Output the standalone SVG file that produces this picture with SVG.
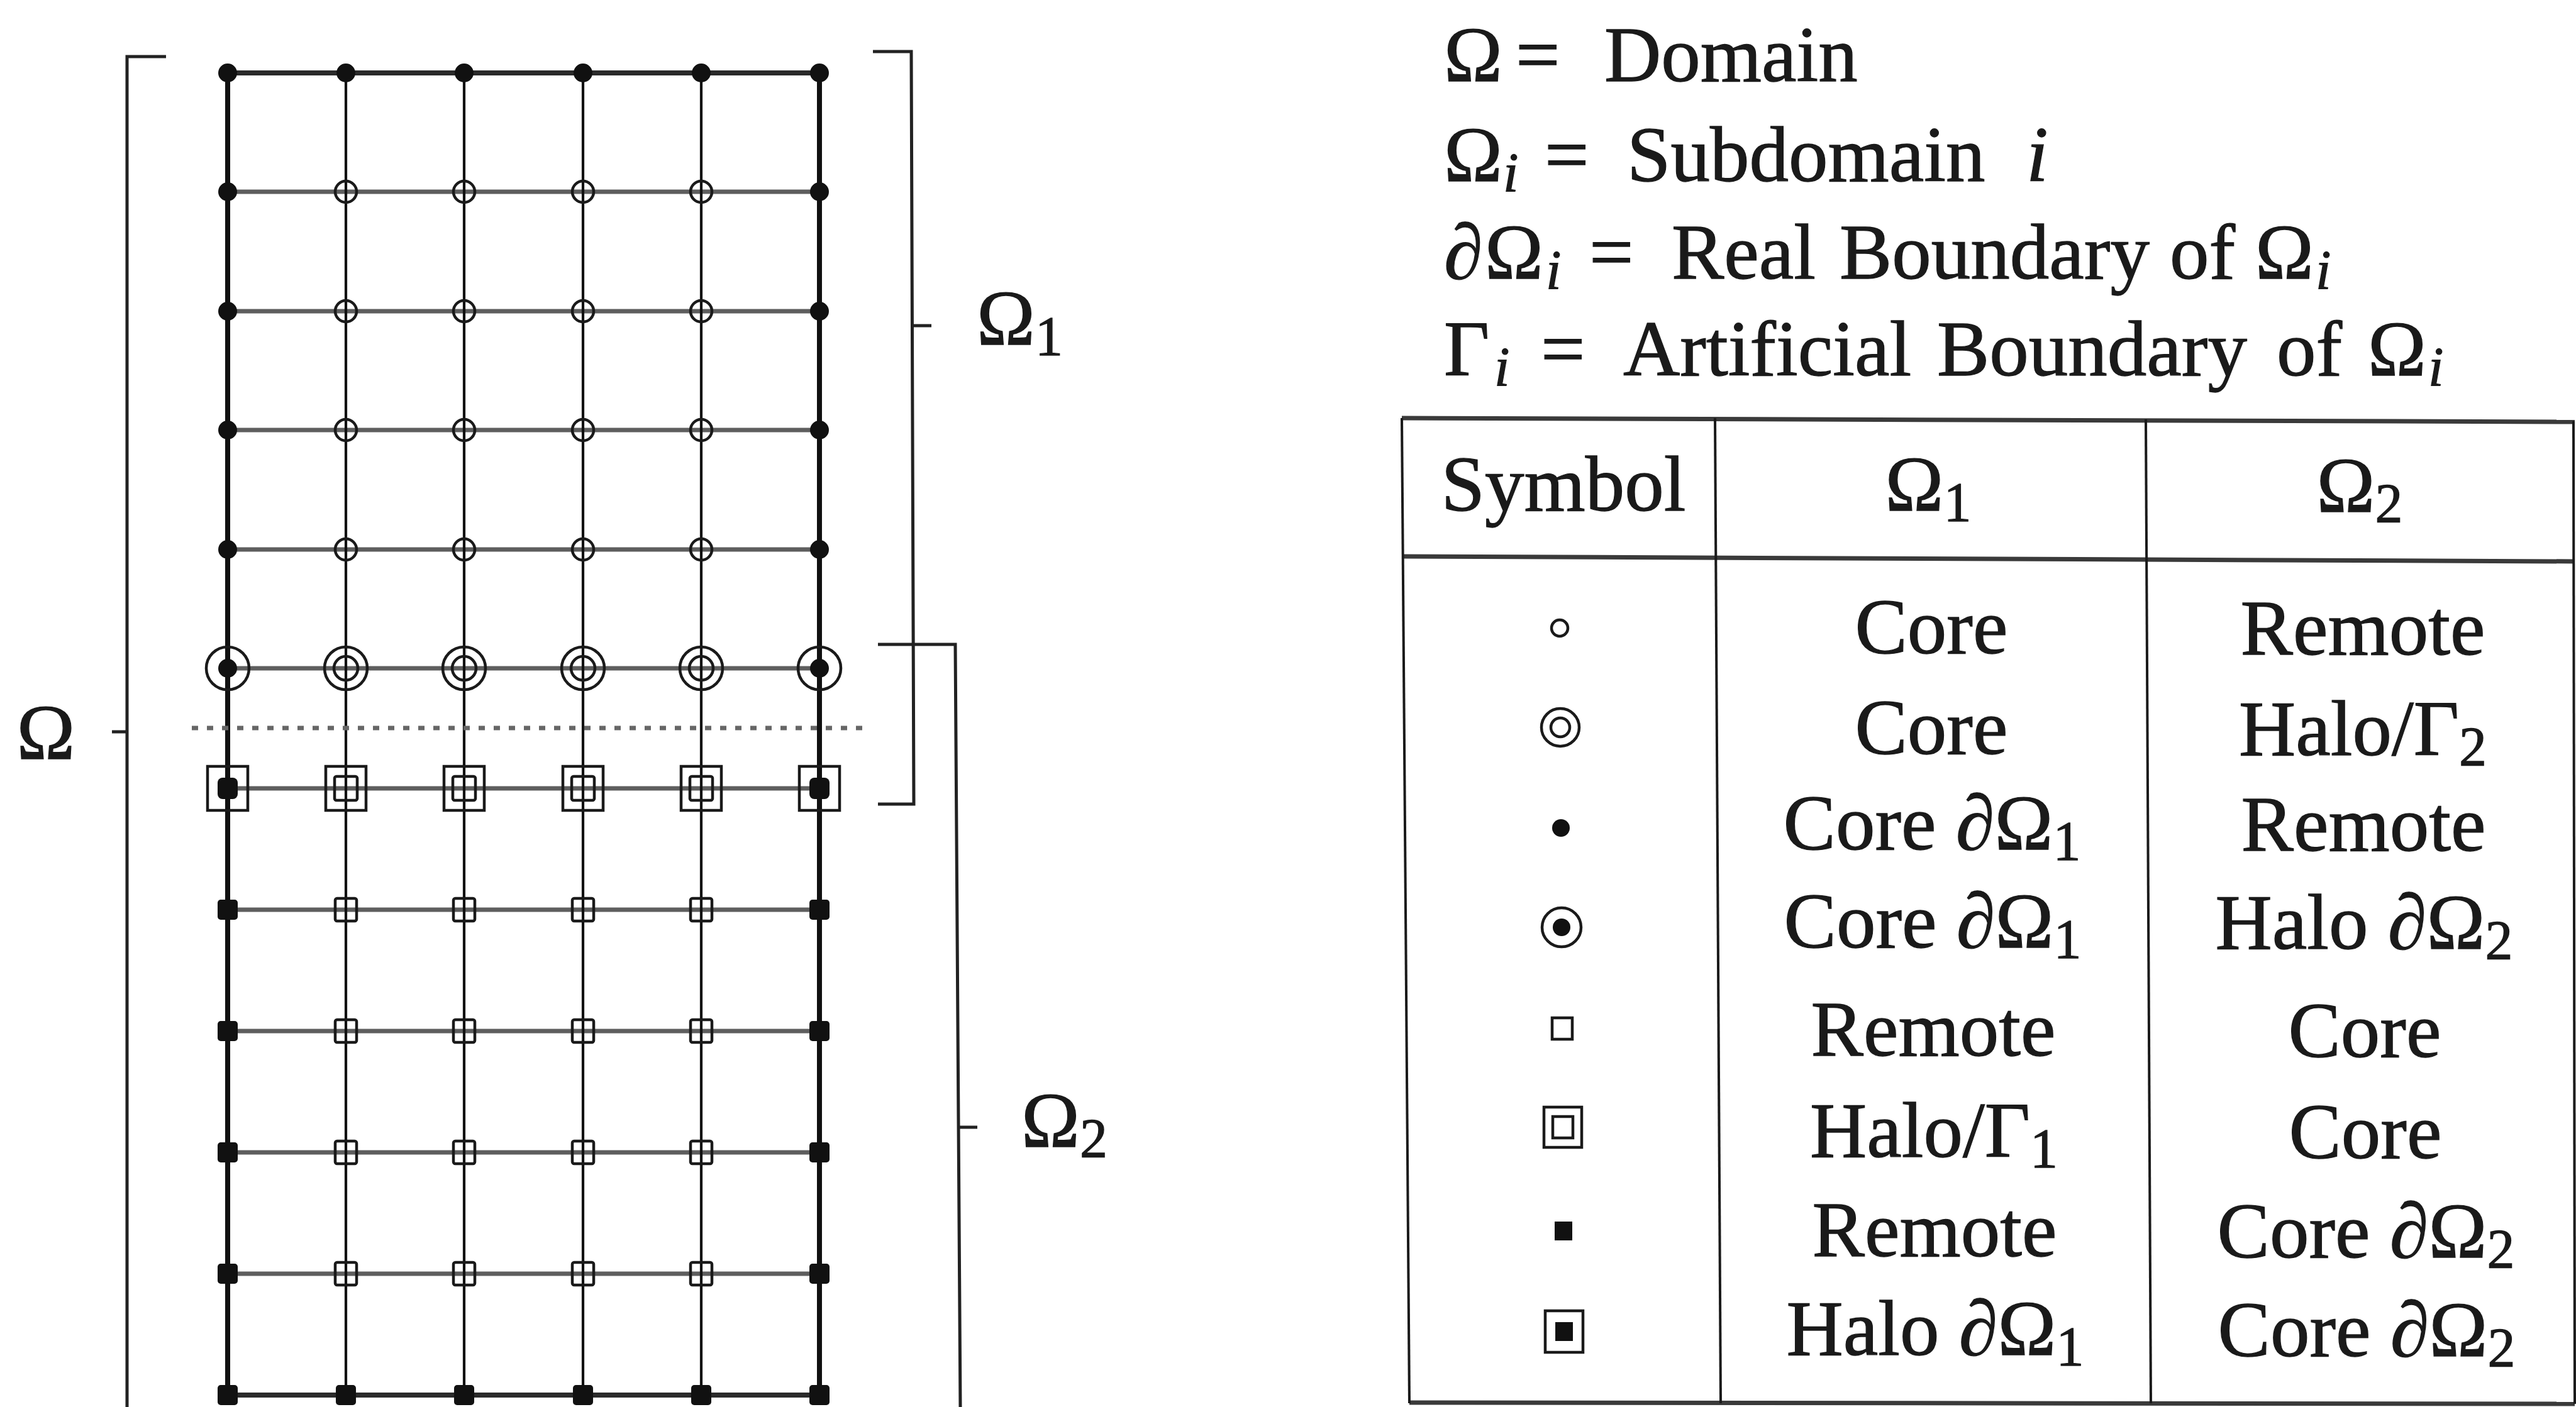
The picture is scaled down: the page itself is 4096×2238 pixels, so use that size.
<svg xmlns="http://www.w3.org/2000/svg" width="4096" height="2238" viewBox="0 0 4096 2238">
<style>
.t{font-family:"Liberation Serif","DejaVu Serif",serif;font-size:125px;fill:#1a1a1a;stroke:#1a1a1a;stroke-width:1.3}
.sub{font-size:88px}
.it{font-style:italic}
.edge{stroke:#111;stroke-width:8;fill:none;stroke-linecap:round}
.gv{stroke:#111;stroke-width:4.2;fill:none}
.gh{stroke:#5e5e5e;stroke-width:7;fill:none}
.gt{stroke:#2a2a2a;stroke-width:8;fill:none}
.cut{stroke:#666;stroke-width:7;stroke-dasharray:10 14;fill:none}
.br{stroke:#222;stroke-width:5;fill:none}
.rule{stroke:#3a3a3a;stroke-width:7;fill:none}
.sep{stroke:#1a1a1a;stroke-width:4;fill:none}
.o{fill:none;stroke:#1a1a1a;stroke-width:4.5}
.f{fill:#111}
</style>
<defs>
  <!-- mesh node markers, centred on the origin -->
  <g id="dotB"><circle r="15" class="f"/></g>
  <g id="ring"><circle r="17" class="o"/></g>
  <g id="haloC"><circle r="34" class="o"/><circle r="19" class="o"/></g>
  <g id="haloCB"><circle r="34" class="o"/><circle r="15" class="f"/></g>
  <g id="haloS"><rect x="-32" y="-35" width="64" height="70" class="o"/><rect x="-18" y="-19" width="36" height="38" rx="3" class="o"/></g>
  <g id="haloSB"><rect x="-32" y="-35" width="64" height="70" class="o"/><rect x="-16" y="-17" width="32" height="34" rx="8" class="f"/></g>
  <g id="box"><rect x="-17" y="-18" width="34" height="36" rx="3" class="o"/></g>
  <g id="sqB"><rect x="-16" y="-16" width="32" height="32" rx="5" class="f"/></g>
  <!-- legend table markers -->
  <g id="kRing"><circle r="13" class="o"/></g>
  <g id="kHaloC"><circle r="30" class="o"/><circle r="15" class="o"/></g>
  <g id="kDot"><circle r="14" class="f"/></g>
  <g id="kHaloCB"><circle r="31" class="o"/><circle r="14" class="f"/></g>
  <g id="kBox"><rect x="-16" y="-17" width="32" height="34" class="o"/></g>
  <g id="kHaloS"><rect x="-30" y="-32" width="60" height="64" class="o"/><rect x="-16" y="-17" width="32" height="34" class="o"/></g>
  <g id="kSq"><rect x="-14" y="-15" width="28" height="30" class="f"/></g>
  <g id="kHaloSB"><rect x="-30" y="-33" width="60" height="66" class="o"/><rect x="-14" y="-15" width="28" height="30" class="f"/></g>
</defs>

<rect width="4096" height="2238" fill="#fff"/>

<!-- mesh lines -->
<g id="connectors">
  <line class="gh" x1="362" y1="305" x2="1303" y2="305"/>
  <line class="gh" x1="362" y1="495" x2="1303" y2="495"/>
  <line class="gh" x1="362" y1="684" x2="1303" y2="684"/>
  <line class="gh" x1="362" y1="874" x2="1303" y2="874"/>
  <line class="gh" x1="362" y1="1063" x2="1303" y2="1063"/>
  <line class="gh" x1="362" y1="1254" x2="1303" y2="1254"/>
  <line class="gh" x1="362" y1="1447" x2="1303" y2="1447"/>
  <line class="gh" x1="362" y1="1640" x2="1303" y2="1640"/>
  <line class="gh" x1="362" y1="1833" x2="1303" y2="1833"/>
  <line class="gh" x1="362" y1="2026" x2="1303" y2="2026"/>
  <line class="gt" x1="362" y1="116" x2="1303" y2="116"/>
  <line class="gt" x1="362" y1="2219" x2="1303" y2="2219"/>
  <line class="gv" x1="550" y1="116" x2="550" y2="2219"/>
  <line class="gv" x1="738" y1="116" x2="738" y2="2219"/>
  <line class="gv" x1="927" y1="116" x2="927" y2="2219"/>
  <line class="gv" x1="1115" y1="116" x2="1115" y2="2219"/>
  <line class="edge" x1="362" y1="116" x2="362" y2="2219"/>
  <line class="edge" x1="1303" y1="116" x2="1303" y2="2219"/>
  <!-- interface between the two subdomains -->
  <line class="cut" x1="305" y1="1158" x2="1378" y2="1158"/>
</g>

<!-- mesh nodes -->
<g id="nodes">
  <g id="row0"><use href="#dotB" x="362" y="116"/><use href="#dotB" x="550" y="116"/><use href="#dotB" x="738" y="116"/><use href="#dotB" x="927" y="116"/><use href="#dotB" x="1115" y="116"/><use href="#dotB" x="1303" y="116"/></g>
  <g id="row1"><use href="#dotB" x="362" y="305"/><use href="#ring" x="550" y="305"/><use href="#ring" x="738" y="305"/><use href="#ring" x="927" y="305"/><use href="#ring" x="1115" y="305"/><use href="#dotB" x="1303" y="305"/></g>
  <g id="row2"><use href="#dotB" x="362" y="495"/><use href="#ring" x="550" y="495"/><use href="#ring" x="738" y="495"/><use href="#ring" x="927" y="495"/><use href="#ring" x="1115" y="495"/><use href="#dotB" x="1303" y="495"/></g>
  <g id="row3"><use href="#dotB" x="362" y="684"/><use href="#ring" x="550" y="684"/><use href="#ring" x="738" y="684"/><use href="#ring" x="927" y="684"/><use href="#ring" x="1115" y="684"/><use href="#dotB" x="1303" y="684"/></g>
  <g id="row4"><use href="#dotB" x="362" y="874"/><use href="#ring" x="550" y="874"/><use href="#ring" x="738" y="874"/><use href="#ring" x="927" y="874"/><use href="#ring" x="1115" y="874"/><use href="#dotB" x="1303" y="874"/></g>
  <g id="row5"><use href="#haloCB" x="362" y="1063"/><use href="#haloC" x="550" y="1063"/><use href="#haloC" x="738" y="1063"/><use href="#haloC" x="927" y="1063"/><use href="#haloC" x="1115" y="1063"/><use href="#haloCB" x="1303" y="1063"/></g>
  <g id="row6"><use href="#haloSB" x="362" y="1254"/><use href="#haloS" x="550" y="1254"/><use href="#haloS" x="738" y="1254"/><use href="#haloS" x="927" y="1254"/><use href="#haloS" x="1115" y="1254"/><use href="#haloSB" x="1303" y="1254"/></g>
  <g id="row7"><use href="#sqB" x="362" y="1447"/><use href="#box" x="550" y="1447"/><use href="#box" x="738" y="1447"/><use href="#box" x="927" y="1447"/><use href="#box" x="1115" y="1447"/><use href="#sqB" x="1303" y="1447"/></g>
  <g id="row8"><use href="#sqB" x="362" y="1640"/><use href="#box" x="550" y="1640"/><use href="#box" x="738" y="1640"/><use href="#box" x="927" y="1640"/><use href="#box" x="1115" y="1640"/><use href="#sqB" x="1303" y="1640"/></g>
  <g id="row9"><use href="#sqB" x="362" y="1833"/><use href="#box" x="550" y="1833"/><use href="#box" x="738" y="1833"/><use href="#box" x="927" y="1833"/><use href="#box" x="1115" y="1833"/><use href="#sqB" x="1303" y="1833"/></g>
  <g id="row10"><use href="#sqB" x="362" y="2026"/><use href="#box" x="550" y="2026"/><use href="#box" x="738" y="2026"/><use href="#box" x="927" y="2026"/><use href="#box" x="1115" y="2026"/><use href="#sqB" x="1303" y="2026"/></g>
  <g id="row11"><use href="#sqB" x="362" y="2219"/><use href="#sqB" x="550" y="2219"/><use href="#sqB" x="738" y="2219"/><use href="#sqB" x="927" y="2219"/><use href="#sqB" x="1115" y="2219"/><use href="#sqB" x="1303" y="2219"/></g>
</g>

<!-- domain and subdomain brackets -->
<g id="brackets">
  <polyline class="br" points="264,90 202,90 202,2240"/>
  <line class="br" x1="178" y1="1164" x2="202" y2="1164"/>
  <text class="t" x="73" y="1207" text-anchor="middle">Ω</text>

  <polyline class="br" points="1388,82 1449,82 1453,1279 1396,1279"/>
  <line class="br" x1="1451" y1="518" x2="1481" y2="518"/>
  <text class="t" x="1553" y="548">Ω<tspan class="sub" dy="16">1</tspan></text>

  <polyline class="br" points="1396,1025 1519,1025 1527,2240"/>
  <line class="br" x1="1525" y1="1793" x2="1554" y2="1793"/>
  <text class="t" x="1624" y="1824">Ω<tspan class="sub" dy="16">2</tspan></text>
</g>

<!-- notation -->
<g id="notation">
  <text class="t" y="129"><tspan x="2296">Ω</tspan><tspan x="2410">=</tspan><tspan x="2551">Domain</tspan></text>
  <text class="t" y="288"><tspan x="2296">Ω</tspan><tspan class="sub it" x="2390" dy="16">i</tspan><tspan x="2456" dy="-16">=</tspan><tspan x="2587">Subdomain</tspan><tspan class="it" x="3222">i</tspan></text>
  <text class="t" y="443"><tspan x="2296">∂</tspan><tspan x="2361">Ω</tspan><tspan class="sub it" x="2458" dy="16">i</tspan><tspan x="2527" dy="-16">=</tspan><tspan x="2658">Real</tspan><tspan x="2925">Boundary</tspan><tspan x="3450">of</tspan><tspan x="3586">Ω</tspan><tspan class="sub it" x="3682" dy="16">i</tspan></text>
  <text class="t" y="597"><tspan x="2296">Γ</tspan><tspan class="sub it" x="2376" dy="16">i</tspan><tspan x="2450" dy="-16">=</tspan><tspan x="2581">Artificial</tspan><tspan x="3080">Boundary</tspan><tspan x="3620">of</tspan><tspan x="3765">Ω</tspan><tspan class="sub it" x="3861" dy="16">i</tspan></text>
</g>

<!-- symbol table -->
<g id="table">
  <g id="table-rules">
    <line class="rule" x1="2229" y1="665" x2="4094" y2="671"/>
    <line class="rule" x1="2229" y1="885" x2="4094" y2="893"/>
    <line class="rule" x1="2241" y1="2231" x2="4094" y2="2233"/>
    <line class="sep" x1="2229" y1="665" x2="2241" y2="2232"/>
    <line class="sep" x1="2727" y1="665" x2="2736" y2="2232"/>
    <line class="sep" x1="3412" y1="667" x2="3420" y2="2232"/>
    <line class="sep" x1="4092" y1="670" x2="4094" y2="2233"/>
  </g>
  <g id="table-head">
    <text class="t" x="2486" y="812" text-anchor="middle">Symbol</text>
    <text class="t" x="3066" y="812" text-anchor="middle">Ω<tspan class="sub" dy="16">1</tspan></text>
    <text class="t" x="3752" y="814" text-anchor="middle">Ω<tspan class="sub" dy="16">2</tspan></text>
  </g>
  <g id="key1"><use href="#kRing" x="2480" y="999"/><text class="t" x="3071" y="1039" text-anchor="middle">Core</text><text class="t" x="3757" y="1041" text-anchor="middle">Remote</text></g>
  <g id="key2"><use href="#kHaloC" x="2481" y="1157"/><text class="t" x="3071" y="1199" text-anchor="middle">Core</text><text class="t" x="3757" y="1201" text-anchor="middle">Halo/Γ<tspan class="sub" dy="16">2</tspan></text></g>
  <g id="key3"><use href="#kDot" x="2482" y="1317"/><text class="t" x="3072" y="1351" text-anchor="middle">Core ∂Ω<tspan class="sub" dy="16">1</tspan></text><text class="t" x="3758" y="1353" text-anchor="middle">Remote</text></g>
  <g id="key4"><use href="#kHaloCB" x="2483" y="1475"/><text class="t" x="3073" y="1507" text-anchor="middle">Core ∂Ω<tspan class="sub" dy="16">1</tspan></text><text class="t" x="3759" y="1509" text-anchor="middle">Halo ∂Ω<tspan class="sub" dy="16">2</tspan></text></g>
  <g id="key5"><use href="#kBox" x="2484" y="1636"/><text class="t" x="3074" y="1679" text-anchor="middle">Remote</text><text class="t" x="3760" y="1681" text-anchor="middle">Core</text></g>
  <g id="key6"><use href="#kHaloS" x="2485" y="1793"/><text class="t" x="3075" y="1840" text-anchor="middle">Halo/Γ<tspan class="sub" dy="16">1</tspan></text><text class="t" x="3761" y="1842" text-anchor="middle">Core</text></g>
  <g id="key7"><use href="#kSq" x="2486" y="1958"/><text class="t" x="3076" y="1998" text-anchor="middle">Remote</text><text class="t" x="3762" y="2000" text-anchor="middle">Core ∂Ω<tspan class="sub" dy="16">2</tspan></text></g>
  <g id="key8"><use href="#kHaloSB" x="2487" y="2118"/><text class="t" x="3077" y="2155" text-anchor="middle">Halo ∂Ω<tspan class="sub" dy="16">1</tspan></text><text class="t" x="3763" y="2157" text-anchor="middle">Core ∂Ω<tspan class="sub" dy="16">2</tspan></text></g>
</g>
</svg>
